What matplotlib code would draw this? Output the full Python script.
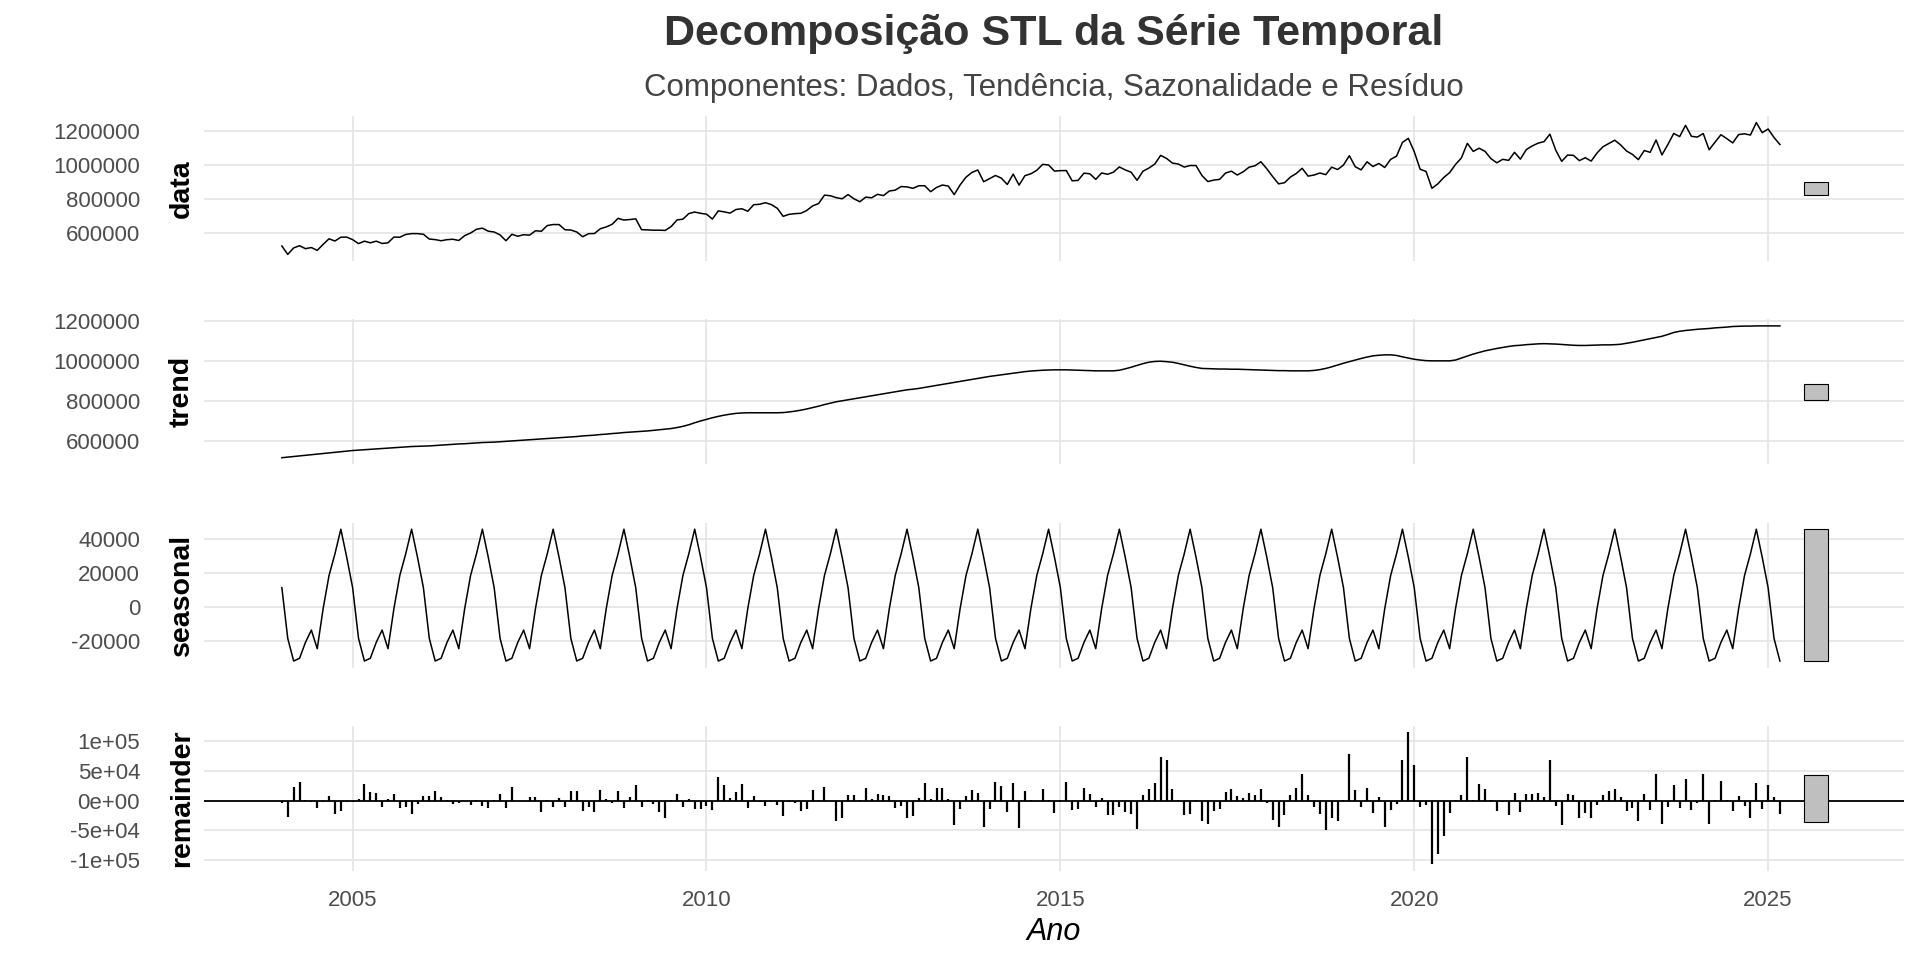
import numpy as np
import matplotlib
matplotlib.use("Agg")
import matplotlib.pyplot as plt
from matplotlib.patches import Rectangle

plt.rcParams["font.family"] = ["Liberation Sans", "DejaVu Sans"]

# ---- data (monthly, Jan 2004 .. Mar 2025) ---------------------------------
START_YEAR = 2004
N_MONTHS = 255

# STL seasonal component (periodic): Jan..Dec
SEASONAL_MONTHLY = [11400, -18600, -32000, -30400, -21000, -13700,
                    -24700, -1000, 18600, 31400, 46000, 29400]

# trend, thousands, one row per year
TREND_K = [
    515, 518, 521, 524, 527, 530, 533, 536, 539, 542, 545, 548,            # 2004
    551, 553, 555, 557, 559, 561, 563, 565, 567, 569, 571, 572,            # 2005
    573, 574, 576, 578, 580, 582, 584, 585, 587, 589, 591, 592,            # 2006
    593, 595, 597, 599, 601, 603, 605, 607, 609, 611, 613, 615,            # 2007
    617, 619, 621, 624, 626, 628, 631, 633, 636, 638, 641, 643,            # 2008
    645, 647, 649, 652, 655, 658, 661, 666, 672, 680, 690, 699,            # 2009
    707, 715, 722, 728, 733, 737, 739, 740, 740, 740, 740, 740,            # 2010
    740, 741, 744, 748, 753, 759, 766, 773, 781, 788, 795, 800,            # 2011
    805, 810, 815, 820, 825, 830, 835, 840, 845, 850, 855, 858,            # 2012
    862, 867, 872, 877, 882, 887, 892, 897, 902, 907, 912, 917,            # 2013
    922, 926, 930, 934, 938, 942, 946, 949, 951, 953, 954, 955,            # 2014
    955, 955, 954, 953, 952, 951, 950, 950, 950, 950, 953, 960,            # 2015
    968, 977, 986, 993, 997, 998, 996, 993, 987, 980, 973, 967,            # 2016
    962, 961, 960, 959, 959, 958, 958, 957, 956, 955, 954, 953,            # 2017
    952, 951, 951, 950, 950, 950, 950, 952, 956, 962, 970, 979,            # 2018
    988, 996, 1004, 1012, 1019, 1025, 1028, 1030, 1030, 1027, 1020, 1014,  # 2019
    1008, 1004, 1001, 1000, 1000, 1000, 1000, 1004, 1014, 1024, 1034, 1042,  # 2020
    1050, 1056, 1062, 1067, 1072, 1076, 1078, 1081, 1083, 1085, 1086, 1085,  # 2021
    1084, 1082, 1080, 1078, 1077, 1077, 1078, 1079, 1080, 1080, 1081, 1083,  # 2022
    1088, 1093, 1099, 1105, 1111, 1117, 1123, 1132, 1142, 1148, 1152, 1155,  # 2023
    1158, 1160, 1162, 1165, 1167, 1169, 1172, 1173, 1174, 1174, 1175, 1175,  # 2024
    1175, 1175, 1175,                                                       # 2025
]

REMAINDER = [
    -4000, -26700, 22000, 30500, 500, -3000, -11700, -3000, 7200, -21700, -16700, -2800,      # 2004
    -2500, 2000, 27800, 14500, 12800, -10000, 2800, 11100, -11700, -10000, -21700, -6100,     # 2005
    7200, 7800, 16100, 5600, 800, -6100, -4400, -500, -6700, 500, -9400, -11700,              # 2006
    500, 11100, -11700, 22800, 0, -500, 6100, 6100, -18300, 500, -10000, 4400,                # 2007
    -10000, 16100, 16100, -16700, -10000, -18300, 17800, 2800, -4400, 16100, -11700, 6100,    # 2008
    26100, -10000, 500, -6100, -18300, -30000, 500, 11100, -10000, 2200, -13300, -13300,      # 2009
    -8300, -15000, 39500, 26100, 4400, 14500, 27800, -11700, 7200, -2800, -8300, -2800,       # 2010
    -6700, -25000, -2800, -4400, -16700, -13300, 17800, 500, 22800, -500, -33400, -28400,     # 2011
    9400, 9400, 500, 21100, 2800, 11100, 9400, 7800, -11700, -8300, -30000, -25000,           # 2012
    4400, 29500, 2800, 21100, 21100, 2800, -41700, -13300, 7800, 17800, 12800, -45000,        # 2013
    -13300, 31100, 24500, -18300, 29500, -46700, 16100, 500, -500, 19500, 500, -20000,        # 2014
    500, 31100, -15000, -13300, 21100, 11100, -10000, 4400, -23400, -23400, -10000, -18300,   # 2015
    -21700, -48400, 9400, 19500, 29500, 72800, 67800, 19500, 500, -23400, -21700, 500,        # 2016
    -35000, -40000, -16700, -13300, 14500, 19500, 7800, 4400, 12800, 9400, 19500, -4400,      # 2017
    -31700, -43400, -23400, 9400, 21100, 44500, 9400, -10000, -21700, -50000, -28400, -35000, # 2018
    500, 77800, 17800, -10000, 21100, -20000, 6100, -43400, -15000, -6100, 67800, 114000,     # 2019
    59500, -10000, -6700, -106700, -90000, -60000, -20000, 500, 9400, 72800, 500, 27800,      # 2020
    19500, 500, -16700, -2800, -23400, 12800, -18300, 11100, 11100, 12800, 6100, 67800,       # 2021
    -8300, -41700, 11100, 9400, -30000, -20000, -30000, -6700, 9400, 16100, 19500, 6100,      # 2022
    -16700, -11700, -35000, 11100, -15000, 44500, -38400, -10000, 26100, -11700, 36100, -15000,  # 2023
    -4400, 44500, -40000, 500, 32800, 500, -16700, 7800, -8300, -28400, 29500, -13300,        # 2024
    26100, 6100, -21700,                                                                      # 2025
]

PANELS = ["data", "trend", "seasonal", "remainder"]
X_TICKS = [2005, 2010, 2015, 2020, 2025]
Y_TICKS = {
    "data": [600000, 800000, 1000000, 1200000],
    "trend": [600000, 800000, 1000000, 1200000],
    "seasonal": [-20000, 0, 20000, 40000],
    "remainder": [-100000, -50000, 0, 50000, 100000],
}
Y_TICKLABELS = {
    "data": ["600000", "800000", "1000000", "1200000"],
    "trend": ["600000", "800000", "1000000", "1200000"],
    "seasonal": ["-20000", "0", "20000", "40000"],
    "remainder": ["-1e+05", "-5e+04", "0e+00", "5e+04", "1e+05"],
}
TITLE = "Decomposição STL da Série Temporal"
SUBTITLE = "Componentes: Dados, Tendência, Sazonalidade e Resíduo"
XLABEL = "Ano"

# ---- derive the series ------------------------------------------------------
t = START_YEAR + np.arange(N_MONTHS) / 12.0
seasonal = np.tile(SEASONAL_MONTHLY, N_MONTHS // 12 + 1)[:N_MONTHS].astype(float)
trend = np.asarray(TREND_K, float) * 1000
remainder = np.asarray(REMAINDER, float)
data = trend + seasonal + remainder
series = {"data": data, "trend": trend, "seasonal": seasonal, "remainder": remainder}

# range bars: same height everywhere (smallest panel range), centred per panel
bar_h = min(s.max() - s.min() for s in series.values())
BAR_X0, BAR_X1 = 2025.51, 2025.85

# ---- layout (pixels of a 1920x960 canvas) -----------------------------------
W, H = 1920, 960
GRID = "#E6E6E6"
TXT = "#4D4D4D"
PX_L, PX_R = 204, 1904
PANEL_TOP0, PANEL_STEP, PANEL_H = 116, 203.3, 145
XLIM = (2002.9, 2026.92)

fig = plt.figure(figsize=(W / 100, H / 100), dpi=100)
fig.patch.set_facecolor("white")

for i, name in enumerate(PANELS):
    top = PANEL_TOP0 + PANEL_STEP * i
    ax = fig.add_axes([PX_L / W, 1 - (top + PANEL_H) / H, (PX_R - PX_L) / W, PANEL_H / H])
    s = series[name]
    mid = (s.max() + s.min()) / 2
    b_lo, b_hi = mid - bar_h / 2, mid + bar_h / 2
    lo, hi = min(s.min(), b_lo), max(s.max(), b_hi)
    pad = 0.05 * (hi - lo)
    ax.set_ylim(lo - pad, hi + pad)
    ax.set_xlim(*XLIM)

    if name == "remainder":
        ax.vlines(t, 0, s, color="black", lw=1.6, zorder=3)
        ax.axhline(0, color="black", lw=1.3, zorder=3)
    else:
        ax.plot(t, s, color="black", lw=1.1, zorder=3)

    ax.add_patch(Rectangle((BAR_X0, b_lo), BAR_X1 - BAR_X0, b_hi - b_lo,
                           facecolor="#BFBFBF", edgecolor="black", lw=0.8, zorder=3))

    ax.set_yticks(Y_TICKS[name])
    ax.set_yticklabels(Y_TICKLABELS[name])
    ax.set_xticks(X_TICKS)
    ax.grid(True, color=GRID, lw=1.3, zorder=0)
    ax.set_axisbelow(True)
    for sp in ax.spines.values():
        sp.set_visible(False)
    ax.tick_params(axis="y", length=0, pad=46, labelsize=16, labelcolor=TXT)
    ax.tick_params(axis="x", length=0, pad=14, labelsize=16, labelcolor=TXT)
    if i < len(PANELS) - 1:
        ax.tick_params(axis="x", labelbottom=False)

    fig.text(182 / W, 1 - (top + PANEL_H / 2) / H, name, rotation=90,
             ha="center", va="center", fontsize=20.5, fontweight="bold", color="black")

cx = (PX_L + PX_R) / 2 / W
fig.text(cx, 1 - 34 / H, TITLE, ha="center", va="center",
         fontsize=31, fontweight="bold", color="#333333")
fig.text(cx, 1 - 88 / H, SUBTITLE, ha="center", va="center",
         fontsize=22.5, color="#444444")
fig.text(cx, 1 - 932 / H, XLABEL, ha="center", va="center",
         fontsize=22, style="italic", color="black")

fig.savefig("out.png", dpi=100, facecolor="white")
